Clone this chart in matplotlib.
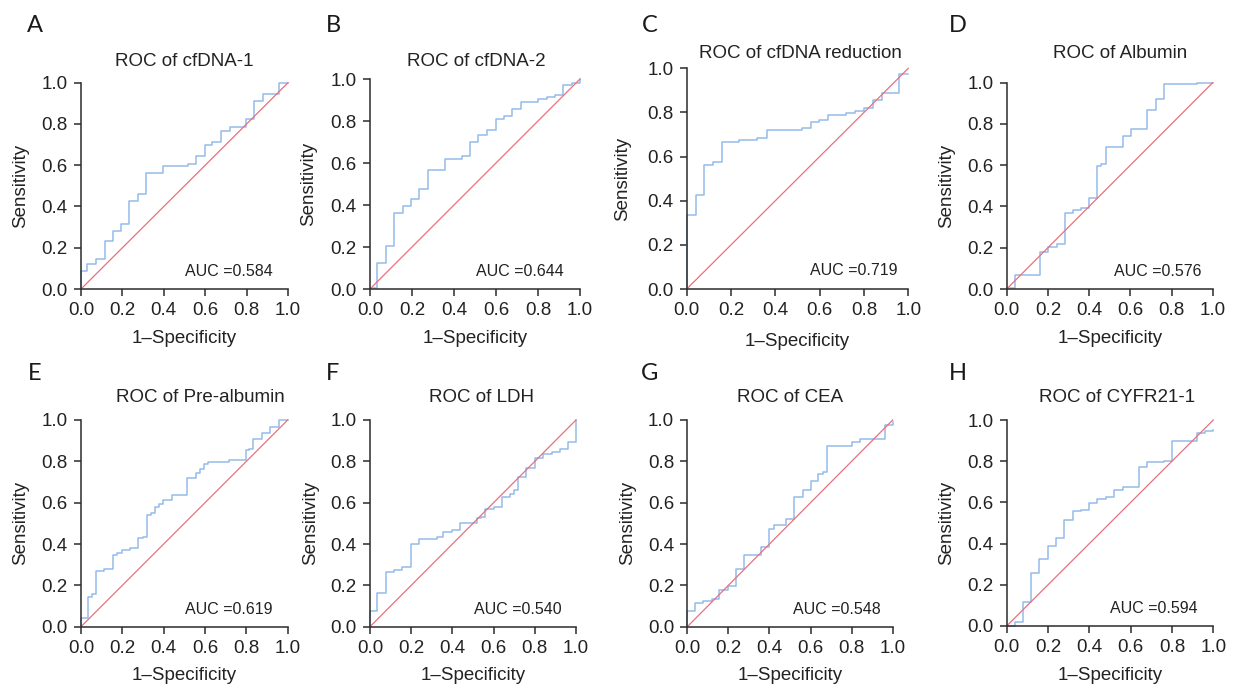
import matplotlib
matplotlib.use("Agg")
import matplotlib.pyplot as plt

plt.rcParams['font.family'] = ['Liberation Sans', 'DejaVu Sans']

# ---------------- data ----------------
panel_letters = ["A", "B", "C", "D", "E", "F", "G", "H"]
titles = ["ROC of cfDNA-1", "ROC of cfDNA-2", "ROC of cfDNA reduction", "ROC of Albumin",
          "ROC of Pre-albumin", "ROC of LDH", "ROC of CEA", "ROC of CYFR21-1"]
auc_values = [0.584, 0.644, 0.719, 0.576, 0.619, 0.540, 0.548, 0.594]
tick_values = [0.0, 0.2, 0.4, 0.6, 0.8, 1.0]
tick_labels = ["0.0", "0.2", "0.4", "0.6", "0.8", "1.0"]

fpr_cfdna1 = [0, 0, 0.031, 0.073, 0.116, 0.156, 0.194, 0.234, 0.276, 0.316, 0.394, 0.515, 0.556,
              0.597, 0.635, 0.676, 0.718, 0.797, 0.834, 0.879, 0.956, 1.0]
tpr_cfdna1 = [0, 0.087, 0.123, 0.145, 0.234, 0.279, 0.315, 0.426, 0.460, 0.562, 0.594, 0.607, 0.643,
              0.698, 0.711, 0.766, 0.787, 0.822, 0.913, 0.947, 1.0, 1.0]

fpr_cfdna2 = [0, 0, 0.032, 0.076, 0.116, 0.156, 0.195, 0.235, 0.278, 0.357, 0.437, 0.476, 0.516,
              0.559, 0.598, 0.638, 0.678, 0.719, 0.802, 0.841, 0.881, 0.921, 0.960, 1.0]
tpr_cfdna2 = [0, 0.006, 0.122, 0.205, 0.360, 0.395, 0.429, 0.476, 0.567, 0.621, 0.632, 0.700, 0.735,
              0.757, 0.811, 0.824, 0.857, 0.890, 0.903, 0.913, 0.924, 0.971, 0.983, 1.0]

fpr_reduction = [0, 0, 0.041, 0.080, 0.120, 0.158, 0.238, 0.319, 0.361, 0.519, 0.559, 0.598, 0.639,
                 0.719, 0.759, 0.798, 0.839, 0.880, 0.959, 1.0]
tpr_reduction = [0, 0.335, 0.427, 0.560, 0.574, 0.665, 0.675, 0.684, 0.721, 0.731, 0.755, 0.764, 0.787,
                 0.799, 0.808, 0.819, 0.855, 0.887, 0.974, 0.974]

fpr_albumin = [0, 0, 0.040, 0.162, 0.202, 0.243, 0.282, 0.320, 0.360, 0.401, 0.440, 0.460, 0.482,
               0.563, 0.602, 0.683, 0.723, 0.764, 0.926, 1.0]
tpr_albumin = [0, 0.003, 0.069, 0.179, 0.202, 0.216, 0.370, 0.383, 0.394, 0.441, 0.598, 0.607, 0.687,
               0.743, 0.777, 0.866, 0.922, 0.992, 1.0, 1.0]

fpr_prealb = [0, 0, 0.035, 0.055, 0.073, 0.113, 0.156, 0.176, 0.197, 0.237, 0.277, 0.298, 0.318, 0.338,
              0.358, 0.378, 0.398, 0.439, 0.515, 0.556, 0.576, 0.597, 0.615, 0.716, 0.797, 0.815,
              0.834, 0.874, 0.915, 0.958, 1.0]
tpr_prealb = [0, 0.044, 0.145, 0.156, 0.269, 0.277, 0.347, 0.358, 0.371, 0.379, 0.427, 0.435, 0.539, 0.548,
              0.581, 0.592, 0.613, 0.637, 0.718, 0.742, 0.761, 0.785, 0.795, 0.806, 0.855, 0.860,
              0.906, 0.939, 0.968, 1.0, 1.0]

fpr_ldh = [0, 0, 0.036, 0.076, 0.118, 0.154, 0.197, 0.238, 0.324, 0.356, 0.400, 0.437, 0.518, 0.540,
           0.558, 0.600, 0.639, 0.680, 0.700, 0.720, 0.756, 0.801, 0.841, 0.882, 0.922, 0.963, 1.0]
tpr_ldh = [0, 0.076, 0.165, 0.266, 0.276, 0.290, 0.400, 0.424, 0.435, 0.460, 0.468, 0.500, 0.524, 0.532,
           0.569, 0.577, 0.626, 0.640, 0.661, 0.726, 0.766, 0.815, 0.834, 0.844, 0.860, 0.895, 1.0]

fpr_cea = [0, 0, 0.037, 0.078, 0.119, 0.156, 0.200, 0.237, 0.278, 0.359, 0.399, 0.420, 0.481, 0.519,
           0.562, 0.601, 0.638, 0.660, 0.679, 0.800, 0.841, 0.963, 1.0]
tpr_cea = [0, 0.077, 0.116, 0.124, 0.132, 0.177, 0.198, 0.279, 0.347, 0.385, 0.473, 0.492, 0.519, 0.626,
           0.661, 0.706, 0.739, 0.750, 0.876, 0.895, 0.908, 0.976, 0.992]

fpr_cyfra = [0, 0.040, 0.077, 0.118, 0.158, 0.198, 0.239, 0.277, 0.319, 0.358, 0.400, 0.439, 0.481,
             0.519, 0.561, 0.640, 0.681, 0.761, 0.802, 0.919, 0.960, 1.0]
tpr_cyfra = [0, 0.021, 0.118, 0.256, 0.324, 0.390, 0.425, 0.513, 0.560, 0.563, 0.595, 0.615, 0.628,
             0.660, 0.673, 0.773, 0.798, 0.800, 0.900, 0.935, 0.945, 0.951]

curves = [(fpr_cfdna1, tpr_cfdna1), (fpr_cfdna2, tpr_cfdna2), (fpr_reduction, tpr_reduction),
          (fpr_albumin, tpr_albumin), (fpr_prealb, tpr_prealb), (fpr_ldh, tpr_ldh),
          (fpr_cea, tpr_cea), (fpr_cyfra, tpr_cyfra)]
diag = [0.0, 1.0]

# ---------------- layout (pixels) ----------------
W, H = 1235, 686
axes_px = [(81, 288, 82.7, 289), (370, 580, 79, 289), (686.7, 908.3, 68.3, 289), (1006.7, 1212.7, 82.7, 289),
           (81, 287.7, 420, 626.7), (370, 576, 420, 626.7), (687.3, 892.7, 420, 626.7), (1006.7, 1213.3, 420, 626)]
title_px = [(184, 62), (476, 62), (800, 53), (1120, 53), (200, 397), (482, 397), (790, 397), (1117, 397)]
letter_px = [(35, 25), (333, 25), (650, 25), (958, 25), (35, 373), (333, 373), (650, 373), (958, 373)]
auc_xfrac = [0.928, 0.924, 0.953, 0.948, 0.928, 0.932, 0.943, 0.924]

blue = '#93bce9'
red = '#e8707c'
dark = '#2b2b2b'

fig = plt.figure(figsize=(W / 100, H / 100), dpi=100)

for i in range(8):
    l, r, t, b = axes_px[i]
    ax = fig.add_axes([l / W, 1 - b / H, (r - l) / W, (b - t) / H])
    fx, ty = curves[i]
    ax.plot(fx, ty, drawstyle='steps-post', color=blue, lw=1.1, zorder=2, clip_on=False)
    ax.plot(diag, diag, color=red, lw=0.9, zorder=3, clip_on=False)
    ax.set_xlim(0, 1)
    ax.set_ylim(0, 1)
    for s in ['top', 'right']:
        ax.spines[s].set_visible(False)
    for s in ['left', 'bottom']:
        ax.spines[s].set_color(dark)
        ax.spines[s].set_linewidth(1.1)
        ax.spines[s].set_zorder(4)
    ax.set_xticks(tick_values)
    ax.set_xticklabels(tick_labels)
    ax.set_yticks(tick_values)
    ax.set_yticklabels(tick_labels)
    ax.tick_params(direction='out', length=5, width=1.1, color=dark, labelsize=13.5,
                   labelcolor='#222222', pad=4.5)
    ax.set_facecolor('none')
    ax.text(0.5, -0.238, "1\u2013Specificity", transform=ax.transAxes, ha='center', va='center',
            fontsize=13.5, color='#222222')
    ax.text(-0.29, 0.5, "Sensitivity", transform=ax.transAxes, ha='center', va='center',
            rotation=90, fontsize=13.5, color='#222222')
    ax.text(auc_xfrac[i], 0.083, "AUC =%.3f" % auc_values[i], transform=ax.transAxes,
            ha='right', va='center', fontsize=11.5, color='#222222')
    tx, tyy = title_px[i]
    fig.text(tx / W, 1 - tyy / H, titles[i], ha='center', va='center', fontsize=13.5, color='#222222')
    lx, lyy = letter_px[i]
    fig.text(lx / W, 1 - lyy / H, panel_letters[i], ha='center', va='center', fontsize=17,
             family=['Lato', 'DejaVu Sans'], color='#1a1a1a')

fig.savefig("out.png", dpi=100, facecolor='white')
